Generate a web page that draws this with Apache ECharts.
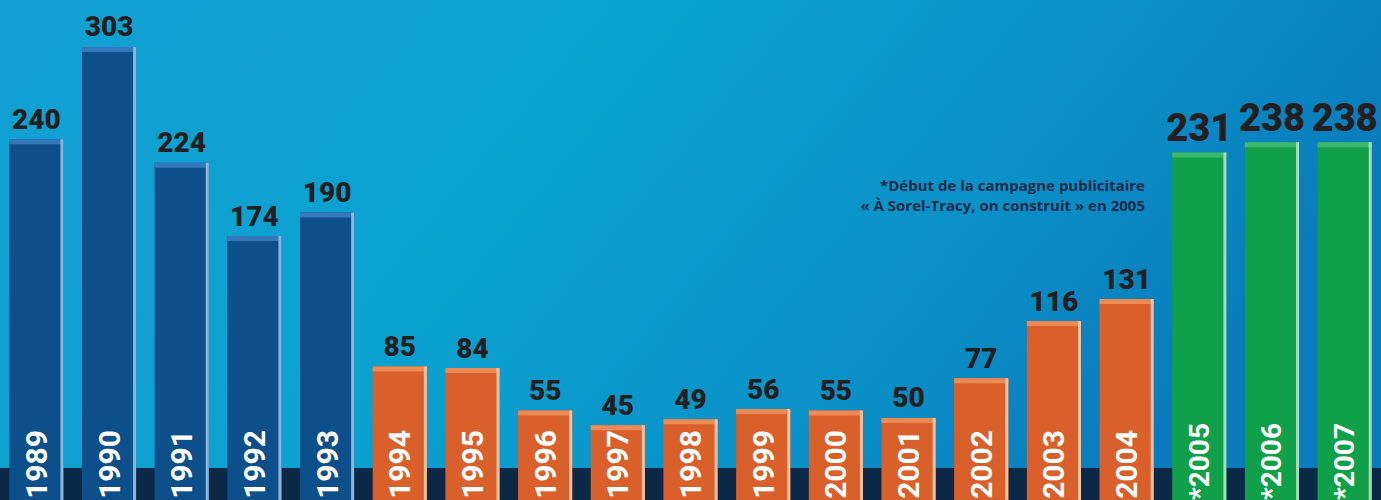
<!DOCTYPE html>
<html>
<head>
<meta charset="utf-8">
<script src="https://cdn.jsdelivr.net/npm/echarts@6/dist/echarts.min.js"></script>
<style>
html,body{margin:0;padding:0;background:#0aa0cf;}
#chart{width:1381px;height:500px;}
</style>
</head>
<body>
<div id="chart"></div>
<script>
// ---- data ----
const years = ['1989','1990','1991','1992','1993','1994','1995','1996','1997','1998','1999','2000','2001','2002','2003','2004','2005','2006','2007'];
const yearLabels = ['1989','1990','1991','1992','1993','1994','1995','1996','1997','1998','1999','2000','2001','2002','2003','2004','*2005','*2006','*2007'];
const values = [240, 303, 224, 174, 190, 85, 84, 55, 45, 49, 56, 55, 50, 77, 116, 131, 231, 238, 238];
const noteLines = ['*Début de la campagne publicitaire', '«\u00A0À Sorel-Tracy, on construit\u00A0» en 2005'];

// ---- styles ----
const palettes = {
  blue:   {main: '#0c4f8b', top: '#3478bb', edge: '#8db6df'},
  orange: {main: '#d9602a', top: '#ec8a55', edge: '#f3c0a0'},
  green:  {main: '#10a04a', top: '#3cba70', edge: '#a6dcbc'}
};
function paletteFor(year) {
  const y = parseInt(year, 10);
  if (y < 1994) return palettes.blue;
  if (y < 2005) return palettes.orange;
  return palettes.green;
}
const FONT = 'Roboto, "DejaVu Sans", sans-serif';
const NOTE_FONT = '"Open Sans", Roboto, sans-serif';
const Y_MIN = -6, Y_MAX = 335;

const chart = echarts.init(document.getElementById('chart'), null, {renderer: 'svg'});

function renderItem(params, api) {
  const i = params.dataIndex;
  const v = api.value(1);
  const year = years[i];
  const pal = paletteFor(year);
  const isGreen = parseInt(year, 10) >= 2005;
  const top = api.coord([api.value(0), v]);
  const base = api.coord([api.value(0), Y_MIN]);
  const bw = api.size([1, 0])[0] * 0.745;
  const x = top[0] - bw / 2;
  const h = base[1] - top[1];
  return {
    type: 'group',
    children: [
      {type: 'rect', shape: {x: x, y: top[1], width: bw, height: h}, style: {fill: pal.main}},
      {type: 'rect', shape: {x: x, y: top[1], width: bw, height: 5}, style: {fill: pal.top}},
      {type: 'rect', shape: {x: x + bw - 3, y: top[1], width: 3, height: h}, style: {fill: pal.edge}},
      {type: 'text', x: top[0], y: top[1] - (isGreen ? 5 : 6),
        style: {text: String(v), fill: '#231f20', align: 'center', verticalAlign: 'bottom',
          font: '900 ' + (isGreen ? 38 : 28) + 'px ' + FONT}},
      {type: 'text', x: top[0], y: isGreen ? 423 : 430, rotation: Math.PI / 2,
        style: {text: yearLabels[i], fill: '#ffffff', align: 'right', verticalAlign: 'middle',
          font: 'bold ' + (isGreen ? 28 : 30) + 'px ' + FONT}}
    ]
  };
}

const option = {
  animation: false,
  backgroundColor: {
    type: 'linear', x: 0, y: 0, x2: 1, y2: 0.3,
    colorStops: [
      {offset: 0, color: '#13a0d4'},
      {offset: 0.45, color: '#0ba2d0'},
      {offset: 0.75, color: '#0a92c8'},
      {offset: 1, color: '#0a7cbd'}
    ]
  },
  grid: {left: 0, right: 0, top: 0, bottom: 0},
  xAxis: {type: 'category', data: years, show: false, boundaryGap: true},
  yAxis: {type: 'value', min: Y_MIN, max: Y_MAX, show: false, splitLine: {show: false}},
  graphic: [
    {type: 'rect', left: 0, top: 468, z: 0, shape: {width: 1381, height: 32}, style: {fill: '#0b2846'}},
    {type: 'text', z: 5, x: 1145, y: 185, style: {text: noteLines[0], fill: '#1f2a48', align: 'right', verticalAlign: 'middle', font: 'bold 15px ' + NOTE_FONT}},
    {type: 'text', z: 5, x: 1145, y: 205, style: {text: noteLines[1], fill: '#1f2a48', align: 'right', verticalAlign: 'middle', font: 'bold 15px ' + NOTE_FONT}}
  ],
  series: [{
    type: 'custom',
    z: 3,
    renderItem: renderItem,
    data: years.map((y, i) => [i, values[i]])
  }]
};
chart.setOption(option);
</script>
</body>
</html>
